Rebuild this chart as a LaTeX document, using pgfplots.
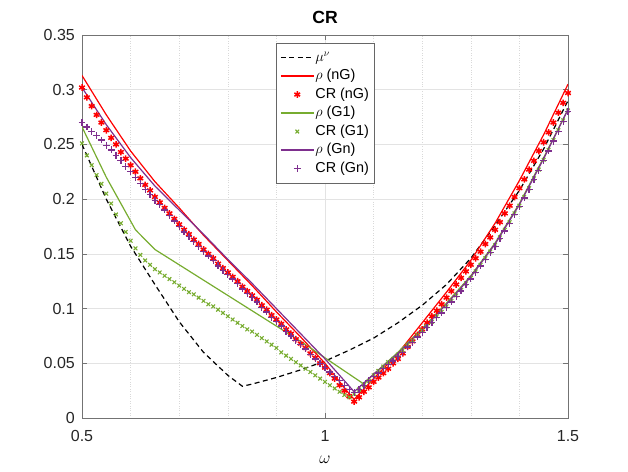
\documentclass[border=0pt]{standalone}
\usepackage{fontspec}
\setmainfont{Liberation Sans}
\usepackage{pgfplots}
\pgfplotsset{compat=1.18}
\definecolor{mred}{rgb}{1,0,0}
\definecolor{mgreen}{rgb}{0.466,0.674,0.188}
\definecolor{mpurple}{rgb}{0.494,0.184,0.556}
\definecolor{axgray}{gray}{0.45}
\pgfplotsset{
  lineleg/.style={legend image code/.code={\draw[##1] (0pt,0pt) -- (33pt,0pt);}},
  markleg/.style={legend image code/.code={\draw[##1] plot coordinates {(16.5pt,0pt)};}},
}
\begin{document}
\begin{tikzpicture}
\useasboundingbox (0,0) rectangle (628pt,471pt);
\begin{axis}[
  at={(82pt,53pt)}, anchor=south west,
  width=486pt, height=383pt, scale only axis,
  xmin=0.5, xmax=1.5, ymin=0, ymax=0.35,
  xtick={0.5,1,1.5}, xticklabels={0.5,1,1.5},
  ytick={0,0.05,0.1,0.15,0.2,0.25,0.3,0.35},
  yticklabels={0,0.05,0.1,0.15,0.2,0.25,0.3,0.35},
  minor xtick={0.6,0.7,0.8,0.9,1.1,1.2,1.3,1.4},
  xmajorgrids, ymajorgrids, xminorgrids,
  major grid style={gray!22, line width=0.5pt},
  minor grid style={gray!30, dotted, line width=0.5pt},
  tick align=inside, major tick length=5pt, minor tick length=0pt,
  axis line style={axgray, line width=0.7pt},
  tick style={axgray, line width=0.6pt},
  every tick label/.append style={font=\fontsize{16}{18}\selectfont, text=black!85},
  xticklabel style={anchor=base, inner sep=0pt, yshift=-23pt},
  yticklabel style={anchor=east, inner sep=0pt, xshift=-7pt},
  title={\bfseries CR},
  title style={at={(0.5,1)}, anchor=base, yshift=5.7pt, font=\fontsize{17.6}{20}\selectfont, inner sep=0pt},
  xlabel={$\omega$},
  xlabel style={at={(0.5,0)}, anchor=base, yshift=-45pt, font=\fontsize{17}{20}\selectfont, inner sep=0pt},
  legend style={at={(0.399,0.979)}, anchor=north west, draw=black!60, line width=0.5pt,
    font=\fontsize{14.4}{16}\selectfont, inner xsep=4pt, inner ysep=6pt,
    row sep=2pt, nodes={inner sep=1pt, text height=11pt, text depth=3.5pt}},
  legend cell align=left,
]
% mu^nu
\addplot[black, line width=1.2pt, dash pattern=on 5pt off 3.5pt, lineleg] coordinates {
(0.50,0.250) (0.55,0.200) (0.60,0.157) (0.65,0.122) (0.70,0.088) (0.75,0.060) (0.80,0.039) (0.83,0.029) (0.85,0.031) (0.90,0.037) (0.95,0.044) (1.00,0.052) (1.05,0.062) (1.10,0.073) (1.15,0.087) (1.20,0.103) (1.25,0.122) (1.30,0.146) (1.35,0.176) (1.40,0.208) (1.45,0.246) (1.50,0.290)};
\addlegendentry{$\mu^\nu$}
% rho nG
\addplot[color=mred, line width=1.2pt, lineleg] coordinates {
(0.50,0.313) (0.55,0.277) (0.60,0.244) (0.65,0.216) (0.70,0.192) (0.75,0.167) (0.80,0.144) (0.85,0.121) (0.90,0.097) (0.95,0.074) (1.00,0.050) (1.05,0.022) (1.06,0.017) (1.10,0.036) (1.15,0.059) (1.20,0.087) (1.25,0.115) (1.30,0.144) (1.35,0.178) (1.40,0.217) (1.45,0.259) (1.50,0.305)};
\addlegendentry{$\rho$ (nG)}
% CR nG
\addplot[color=mred, only marks, mark=asterisk, mark size=3.3pt, line width=1.5pt, markleg] coordinates {
(0.50,0.302) (0.51,0.293) (0.52,0.285) (0.53,0.277) (0.54,0.270) (0.55,0.263) (0.56,0.256) (0.57,0.250) (0.58,0.243) (0.59,0.237)
(0.60,0.231) (0.61,0.225) (0.62,0.219) (0.63,0.213) (0.64,0.208) (0.65,0.202) (0.66,0.197) (0.67,0.192) (0.68,0.187) (0.69,0.182)
(0.70,0.177) (0.71,0.172) (0.72,0.168) (0.73,0.163) (0.74,0.159) (0.75,0.154) (0.76,0.150) (0.77,0.146) (0.78,0.141) (0.79,0.137)
(0.80,0.133) (0.81,0.129) (0.82,0.125) (0.83,0.120) (0.84,0.116) (0.85,0.112) (0.86,0.108) (0.87,0.103) (0.88,0.099) (0.89,0.094)
(0.90,0.090) (0.91,0.086) (0.92,0.081) (0.93,0.077) (0.94,0.072) (0.95,0.068) (0.96,0.064) (0.97,0.059) (0.98,0.055) (0.99,0.050)
(1.00,0.046) (1.01,0.041) (1.02,0.036) (1.03,0.030) (1.04,0.025) (1.05,0.020) (1.06,0.015) (1.07,0.019) (1.08,0.024) (1.09,0.028)
(1.10,0.033) (1.11,0.037) (1.12,0.041) (1.13,0.045) (1.14,0.050) (1.15,0.054) (1.16,0.059) (1.17,0.065) (1.18,0.070) (1.19,0.076)
(1.20,0.081) (1.21,0.087) (1.22,0.093) (1.23,0.098) (1.24,0.104) (1.25,0.110) (1.26,0.116) (1.27,0.122) (1.28,0.128) (1.29,0.134)
(1.30,0.140) (1.31,0.146) (1.32,0.152) (1.33,0.159) (1.34,0.165) (1.35,0.172) (1.36,0.179) (1.37,0.187) (1.38,0.194) (1.39,0.202)
(1.40,0.210) (1.41,0.218) (1.42,0.227) (1.43,0.235) (1.44,0.244) (1.45,0.252) (1.46,0.261) (1.47,0.270) (1.48,0.279) (1.49,0.288)
(1.50,0.297)};
\addlegendentry{CR (nG)}
% rho G1
\addplot[color=mgreen, line width=1.2pt, lineleg] coordinates {
(0.50,0.266) (0.55,0.220) (0.61,0.172) (0.65,0.154) (0.70,0.140) (0.75,0.126) (0.80,0.112) (0.85,0.098) (0.90,0.084) (0.95,0.070) (1.00,0.055) (1.05,0.040) (1.08,0.031) (1.10,0.040) (1.15,0.060) (1.20,0.082) (1.25,0.105) (1.30,0.130) (1.35,0.160) (1.40,0.196) (1.45,0.238) (1.50,0.282)};
\addlegendentry{$\rho$ (G1)}
% CR G1
\addplot[color=mgreen, only marks, mark=x, mark size=2.6pt, line width=1.1pt, markleg] coordinates {
(0.50,0.251) (0.51,0.240) (0.52,0.231) (0.53,0.222) (0.54,0.214) (0.55,0.205) (0.56,0.196) (0.57,0.186) (0.58,0.178) (0.59,0.170)
(0.60,0.162) (0.61,0.155) (0.62,0.149) (0.63,0.144) (0.64,0.140) (0.65,0.136) (0.66,0.133) (0.67,0.130) (0.68,0.127) (0.69,0.124)
(0.70,0.121) (0.71,0.118) (0.72,0.115) (0.73,0.113) (0.74,0.110) (0.75,0.107) (0.76,0.104) (0.77,0.102) (0.78,0.099) (0.79,0.096)
(0.80,0.093) (0.81,0.090) (0.82,0.087) (0.83,0.084) (0.84,0.081) (0.85,0.079) (0.86,0.076) (0.87,0.073) (0.88,0.070) (0.89,0.067)
(0.90,0.064) (0.91,0.060) (0.92,0.057) (0.93,0.054) (0.94,0.051) (0.95,0.048) (0.96,0.045) (0.97,0.042) (0.98,0.039) (0.99,0.036)
(1.00,0.033) (1.01,0.030) (1.02,0.027) (1.03,0.024) (1.04,0.021) (1.05,0.019) (1.06,0.022) (1.07,0.026) (1.08,0.030) (1.09,0.034)
(1.10,0.039) (1.11,0.043) (1.12,0.047) (1.13,0.051) (1.14,0.054) (1.15,0.058) (1.16,0.062) (1.17,0.067) (1.18,0.071) (1.19,0.076)
(1.20,0.080) (1.21,0.084) (1.22,0.088) (1.23,0.093) (1.24,0.097) (1.25,0.102) (1.26,0.107) (1.27,0.112) (1.28,0.117) (1.29,0.123)
(1.30,0.128) (1.31,0.134) (1.32,0.140) (1.33,0.146) (1.34,0.152) (1.35,0.158) (1.36,0.165) (1.37,0.172) (1.38,0.179) (1.39,0.187)
(1.40,0.194) (1.41,0.202) (1.42,0.210) (1.43,0.219) (1.44,0.227) (1.45,0.236) (1.46,0.245) (1.47,0.254) (1.48,0.263) (1.49,0.272)
(1.50,0.281)};
\addlegendentry{CR (G1)}
% rho Gn
\addplot[color=mpurple, line width=1.2pt, lineleg] coordinates {
(0.50,0.302) (0.55,0.268) (0.60,0.238) (0.65,0.212) (0.70,0.190) (0.75,0.168) (0.80,0.145) (0.85,0.123) (0.90,0.100) (0.95,0.077) (1.00,0.054) (1.05,0.029) (1.06,0.024) (1.10,0.040) (1.15,0.059) (1.20,0.081) (1.25,0.104) (1.30,0.129) (1.35,0.159) (1.40,0.195) (1.45,0.237) (1.50,0.282)};
\addlegendentry{$\rho$ (Gn)}
% CR Gn
\addplot[color=mpurple, only marks, mark=+, mark size=3.4pt, line width=1.3pt, markleg] coordinates {
(0.50,0.270) (0.51,0.266) (0.52,0.262) (0.53,0.258) (0.54,0.254) (0.55,0.249) (0.56,0.245) (0.57,0.240) (0.58,0.235) (0.59,0.230)
(0.60,0.225) (0.61,0.220) (0.62,0.214) (0.63,0.209) (0.64,0.204) (0.65,0.199) (0.66,0.195) (0.67,0.190) (0.68,0.185) (0.69,0.180)
(0.70,0.175) (0.71,0.170) (0.72,0.166) (0.73,0.161) (0.74,0.157) (0.75,0.152) (0.76,0.148) (0.77,0.144) (0.78,0.139) (0.79,0.135)
(0.80,0.131) (0.81,0.127) (0.82,0.123) (0.83,0.118) (0.84,0.114) (0.85,0.110) (0.86,0.106) (0.87,0.101) (0.88,0.097) (0.89,0.092)
(0.90,0.088) (0.91,0.084) (0.92,0.079) (0.93,0.075) (0.94,0.071) (0.95,0.067) (0.96,0.063) (0.97,0.058) (0.98,0.054) (0.99,0.050)
(1.00,0.046) (1.01,0.042) (1.02,0.038) (1.03,0.034) (1.04,0.030) (1.05,0.026) (1.06,0.023) (1.07,0.026) (1.08,0.030) (1.09,0.034)
(1.10,0.038) (1.11,0.041) (1.12,0.045) (1.13,0.049) (1.14,0.052) (1.15,0.056) (1.16,0.060) (1.17,0.065) (1.18,0.069) (1.19,0.074)
(1.20,0.078) (1.21,0.083) (1.22,0.087) (1.23,0.092) (1.24,0.096) (1.25,0.101) (1.26,0.106) (1.27,0.111) (1.28,0.116) (1.29,0.122)
(1.30,0.127) (1.31,0.133) (1.32,0.139) (1.33,0.145) (1.34,0.151) (1.35,0.157) (1.36,0.164) (1.37,0.171) (1.38,0.178) (1.39,0.186)
(1.40,0.193) (1.41,0.201) (1.42,0.209) (1.43,0.218) (1.44,0.226) (1.45,0.235) (1.46,0.244) (1.47,0.253) (1.48,0.262) (1.49,0.271)
(1.50,0.280)};
\addlegendentry{CR (Gn)}
\end{axis}
\end{tikzpicture}
\end{document}
